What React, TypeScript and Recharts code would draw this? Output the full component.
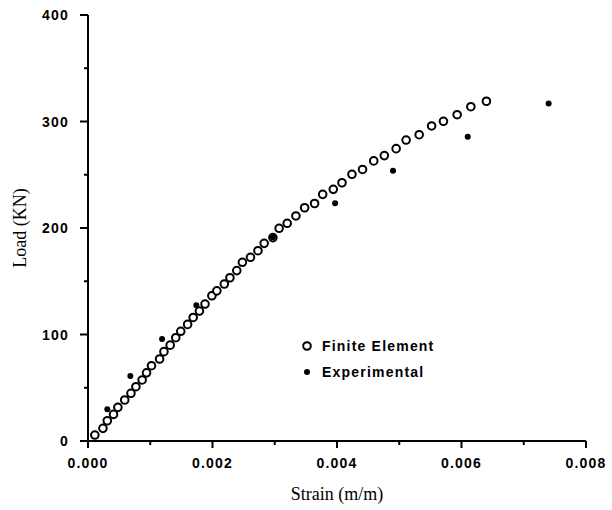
import { ScatterChart, Scatter, XAxis, YAxis, Legend } from 'recharts';

// Finite element results (open circles)
const feStrain = [
  0.00011, 0.00024, 0.00031, 0.00041, 0.00048, 0.00059, 0.00069, 0.00077, 0.00087, 0.00094,
  0.00102, 0.00115, 0.00122, 0.00132, 0.00141, 0.00149, 0.0016, 0.00169, 0.00179, 0.00188,
  0.00199, 0.00207, 0.00219, 0.00228, 0.00239, 0.00248, 0.00261, 0.00273, 0.00283, 0.00297,
  0.00307, 0.0032, 0.00334, 0.00348, 0.00364, 0.00377, 0.00394, 0.00408, 0.00424, 0.00441,
  0.00459, 0.00476, 0.00495, 0.00511, 0.00532, 0.00552, 0.00571, 0.00593, 0.00615, 0.0064,
];
const feLoad = [
  5.6, 11.9, 19, 25, 31.6, 38.5, 44.8, 51, 57.3, 64,
  70.7, 77, 83.9, 90, 97, 103, 109.5, 116, 122, 128.6,
  136.4, 141, 147.4, 153.3, 160, 167.8, 172.5, 178.7, 185.6, 191,
  199.7, 204.4, 211.3, 219, 223, 231.6, 236.3, 242.5, 250.4, 255,
  263, 268, 274.5, 282.6, 287.6, 295.8, 300.2, 306.4, 313.9, 319,
];

// Experimental results (filled dots)
const expStrain = [0.00031, 0.00068, 0.00119, 0.00174, 0.00297, 0.00397, 0.0049, 0.0061, 0.0074];
const expLoad = [29.8, 61, 95.8, 127.4, 191.3, 223.2, 253.8, 285.7, 317];

const xTicks = [0, 0.001, 0.002, 0.003, 0.004, 0.005, 0.006, 0.007, 0.008];
const yTicks = [0, 50, 100, 150, 200, 250, 300, 350, 400];

const feData = feStrain.map((s, i) => ({ strain: s, load: feLoad[i] }));
const expData = expStrain.map((s, i) => ({ strain: s, load: expLoad[i] }));

const tickFont = { fontFamily: '"Liberation Sans", Arial, sans-serif', fontWeight: 700, fontSize: 14, letterSpacing: 1.2 };
const titleFont = '"Liberation Serif", "Times New Roman", serif';

const OpenCircle = (p: any) => (
  <circle cx={p.cx} cy={p.cy} r={3.8} fill="#fff" stroke="#000" strokeWidth={2} />
);
const Dot = (p: any) => <circle cx={p.cx} cy={p.cy} r={3} fill="#000" />;

const XTick = ({ x, y, payload }: any) => {
  const v = payload.value;
  const major = Math.round(v * 1000) % 2 === 0;
  return (
    <g>
      <line x1={x} x2={x} y1={y} y2={y + (major ? 7 : 4)} stroke="#000" strokeWidth={2} />
      {major && (
        <text x={x} y={y + 27} textAnchor="middle" fill="#000" style={tickFont}>
          {v.toFixed(3)}
        </text>
      )}
    </g>
  );
};

const YTick = ({ x, y, payload }: any) => {
  const v = payload.value;
  const major = v % 100 === 0;
  return (
    <g>
      <line x1={x - (major ? 8 : 4)} x2={x} y1={y} y2={y} stroke="#000" strokeWidth={2} />
      {major && (
        <text x={x - 19} y={y + 5} textAnchor="end" fill="#000" style={tickFont}>
          {v}
        </text>
      )}
    </g>
  );
};

const renderLegend = () => (
  <div style={{ ...tickFont, fontSize: 14, lineHeight: '26px' }}>
    <div style={{ display: 'flex', alignItems: 'center' }}>
      <svg width={22} height={14}>
        <circle cx={7} cy={7} r={3.8} fill="#fff" stroke="#000" strokeWidth={2} />
      </svg>
      <span>Finite Element</span>
    </div>
    <div style={{ display: 'flex', alignItems: 'center' }}>
      <svg width={22} height={14}>
        <circle cx={7} cy={7} r={3} fill="#000" />
      </svg>
      <span>Experimental</span>
    </div>
  </div>
);

export default function App() {
  return (
    <div style={{ position: 'absolute', left: 0, top: 0, width: 612, height: 510, background: '#fff' }}>
      <ScatterChart width={612} height={510} margin={{ top: 15, right: 26, bottom: 0, left: 0 }}>
        <XAxis
          type="number"
          dataKey="strain"
          domain={[0, 0.008]}
          ticks={xTicks}
          height={69}
          tickSize={0}
          tickMargin={0}
          tickLine={false}
          tick={<XTick />}
          axisLine={{ stroke: '#000', strokeWidth: 2 }}
          label={{ value: 'Strain (m/m)', position: 'insideBottom', offset: 10, fill: '#000', style: { fontFamily: titleFont, fontSize: 18 } }}
        />
        <YAxis
          type="number"
          dataKey="load"
          domain={[0, 400]}
          ticks={yTicks}
          width={88}
          tickSize={0}
          tickMargin={0}
          tickLine={false}
          tick={<YTick />}
          axisLine={{ stroke: '#000', strokeWidth: 2 }}
          label={{ value: 'Load (KN)', angle: -90, position: 'insideLeft', offset: 20, fill: '#000', style: { fontFamily: titleFont, fontSize: 18, textAnchor: 'middle' } }}
        />
        <Legend
          layout="vertical"
          align="center"
          verticalAlign="middle"
          content={renderLegend}
          wrapperStyle={{ left: 300, top: 333, width: 200 }}
        />
        <Scatter name="Finite Element" data={feData} shape={OpenCircle} isAnimationActive={false} />
        <Scatter name="Experimental" data={expData} shape={Dot} isAnimationActive={false} />
      </ScatterChart>
    </div>
  );
}
